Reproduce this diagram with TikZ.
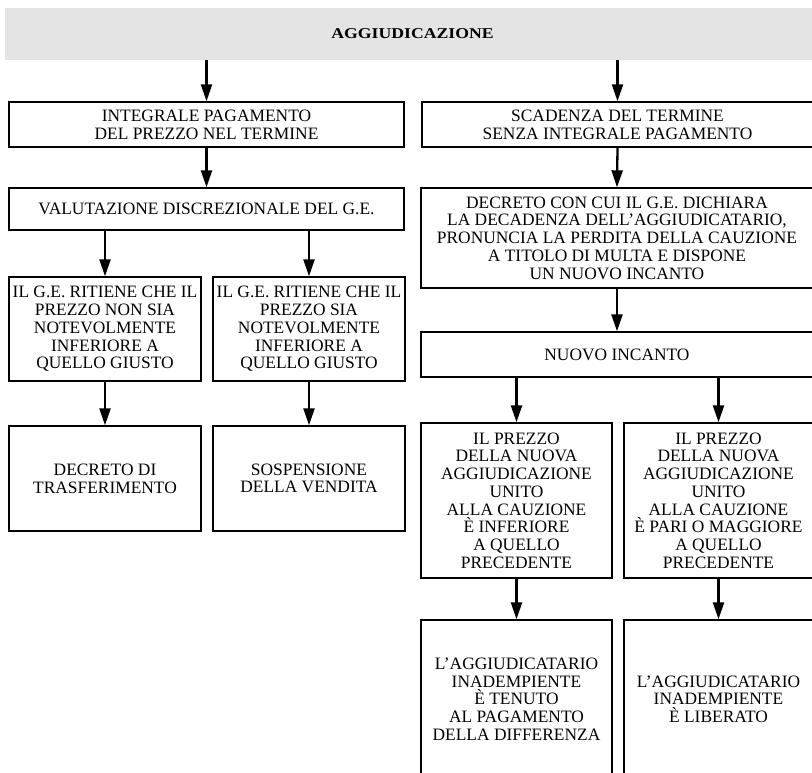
\documentclass[tikz,border=0pt]{standalone}
\usepackage{fontspec}
\setmainfont{Liberation Serif}
\usetikzlibrary{arrows.meta}
\definecolor{headgray}{RGB}{228,228,228}
\tikzset{
  box/.style={draw, line width=1.4pt, inner sep=0pt, align=center,
    font=\fontsize{17.4}{17.7}\selectfont},
  arr/.style={line width=2.3pt, -{Triangle[width=11pt,length=17pt]}},
}
\begin{document}
\begin{tikzpicture}[x=1pt,y=-1pt]
\useasboundingbox (0,0) rectangle (812,773);
\clip (0,0) rectangle (812,773);
\node[fill=headgray, inner sep=0pt, minimum width=815pt, minimum height=52pt] (head) at (412.5,34)
  {\scalebox{1.18}[1]{\fontsize{15}{15}\selectfont\bfseries AGGIUDICAZIONE}};
\node[box, minimum width=395pt, minimum height=45pt] (int) at (206.5,124.5)
  {INTEGRALE PAGAMENTO\\DEL PREZZO NEL TERMINE};
\node[box, minimum width=391pt, minimum height=45pt] (sca) at (617.5,124.5)
  {SCADENZA DEL TERMINE\\SENZA INTEGRALE PAGAMENTO};
\node[box, minimum width=395pt, minimum height=42pt] (val) at (206.5,209)
  {VALUTAZIONE DISCREZIONALE DEL G.E.};
\node[box, minimum width=392pt, minimum height=100pt] (dec) at (617,238)
  {DECRETO CON CUI IL G.E. DICHIARA\\LA DECADENZA DELL’AGGIUDICATARIO,\\PRONUNCIA LA PERDITA DELLA CAUZIONE\\A TITOLO DI MULTA E DISPONE\\UN NUOVO INCANTO};
\node[box, minimum width=192pt, minimum height=104pt] (g1) at (105,329)
  {IL G.E. RITIENE CHE IL\\PREZZO NON SIA\\NOTEVOLMENTE\\INFERIORE A\\QUELLO GIUSTO};
\node[box, minimum width=192pt, minimum height=104pt] (g2) at (309,329)
  {IL G.E. RITIENE CHE IL\\PREZZO SIA\\NOTEVOLMENTE\\INFERIORE A\\QUELLO GIUSTO};
\node[box, minimum width=192pt, minimum height=105pt] (dt) at (105,478.5)
  {DECRETO DI\\TRASFERIMENTO};
\node[box, minimum width=192pt, minimum height=105pt] (sv) at (309,478.5)
  {SOSPENSIONE\\DELLA VENDITA};
\node[box, minimum width=392pt, minimum height=45pt] (nuovo) at (617,354.5)
  {NUOVO INCANTO};
\node[box, minimum width=191pt, minimum height=155pt] (p1) at (516.5,500.5)
  {IL PREZZO\\DELLA NUOVA\\AGGIUDICAZIONE\\UNITO\\ALLA CAUZIONE\\È INFERIORE\\A QUELLO\\PRECEDENTE};
\node[box, minimum width=189pt, minimum height=155pt] (p2) at (718.5,500.5)
  {IL PREZZO\\DELLA NUOVA\\AGGIUDICAZIONE\\UNITO\\ALLA CAUZIONE\\È PARI O MAGGIORE\\A QUELLO\\PRECEDENTE};
\node[box, minimum width=191pt, minimum height=158pt] (b1) at (516.5,699)
  {L’AGGIUDICATARIO\\INADEMPIENTE\\È TENUTO\\AL PAGAMENTO\\DELLA DIFFERENZA};
\node[box, minimum width=189pt, minimum height=158pt] (b2) at (718.5,699)
  {L’AGGIUDICATARIO\\INADEMPIENTE\\È LIBERATO};
% connectors
\draw[arr] (head.south -| int.north) -- (int.north);
\draw[arr] (head.south -| sca.north) -- (sca.north);
\draw[arr] (int.south) -- (val.north);
\draw[arr] (sca.south) -- (dec.north);
\draw[arr] (val.south -| g1.north) -- (g1.north);
\draw[arr] (val.south -| g2.north) -- (g2.north);
\draw[arr] (g1.south) -- (dt.north);
\draw[arr] (g2.south) -- (sv.north);
\draw[arr] (dec.south) -- (nuovo.north);
\draw[arr] (nuovo.south -| p1.north) -- (p1.north);
\draw[arr] (nuovo.south -| p2.north) -- (p2.north);
\draw[arr] (p1.south) -- (b1.north);
\draw[arr] (p2.south) -- (b2.north);
\end{tikzpicture}
\end{document}
